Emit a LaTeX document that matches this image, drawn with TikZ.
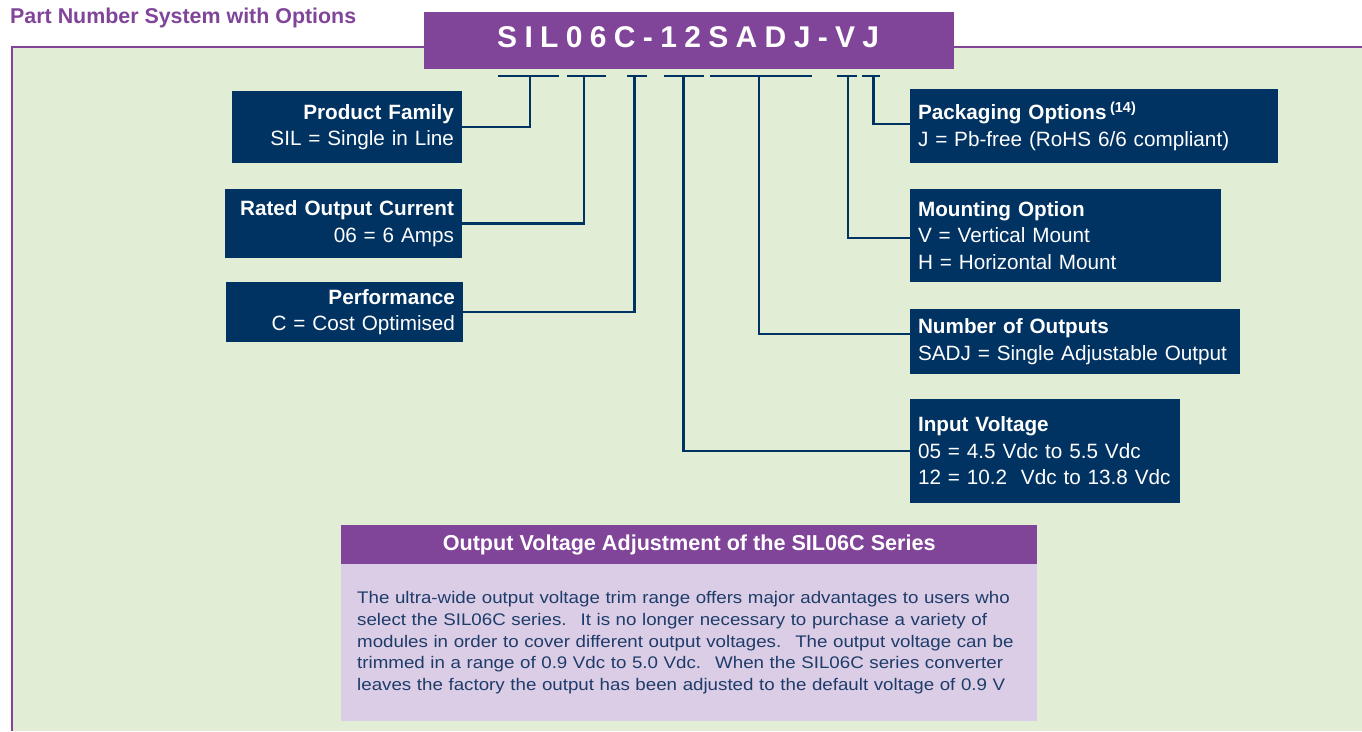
\documentclass[tikz,border=0pt]{standalone}
\usepackage{fontspec}
\setmainfont{Liberation Sans}
\newfontfamily\pnfont[LetterSpace=24.5]{Liberation Sans}
\newfontfamily\widefont[FakeStretch=1.115]{Liberation Sans}
\definecolor{purp}{RGB}{128,68,153}
\definecolor{navy}{RGB}{0,50,98}
\definecolor{panel}{RGB}{225,238,213}
\definecolor{lav}{RGB}{219,205,230}
\definecolor{bodytxt}{RGB}{30,60,105}
\begin{document}
\begin{tikzpicture}[x=1pt,y=-1pt,
  conn/.style={draw=navy, line width=2.4pt},
  boxfont/.style={font=\fontsize{20.7}{26.5}\selectfont},
  lbox/.style={fill=navy, text=white, inner xsep=8pt, inner ysep=0pt, align=right, boxfont},
  rbox/.style={fill=navy, text=white, inner xsep=8pt, inner ysep=0pt, align=left, boxfont},
  plain/.style={inner sep=0pt}
]
\useasboundingbox (0,0) rectangle (1362,731);
% panel
\fill[panel] (12,47) rectangle (1362,731);
\draw[purp, line width=2.2pt] (12,731) -- (12,47) -- (1362,47);
% title
\node[plain, anchor=base west, text=purp, font=\fontsize{21.4}{21.4}\selectfont\bfseries] (title) at (10,23) {Part Number System with Options};
% part number box
\node[plain, fill=purp, minimum width=530pt, minimum height=57pt, anchor=north west] (pn) at (424,12) {};
\node[plain, anchor=base west, text=white, font=\pnfont\bfseries\fontsize{30}{30}\selectfont] (pnt) at (497,47) {SIL06C-12SADJ-VJ};
% tick coordinates
\coordinate (t1) at (530,76);
\coordinate (t2) at (584,76);
\coordinate (t3) at (634.5,76);
\coordinate (t4) at (683.5,76);
\coordinate (t5) at (759,76);
\coordinate (t6) at (848,76);
\coordinate (t7) at (873.5,76);
\draw[conn] ([xshift=-32pt]t1) -- ([xshift=29pt]t1);
\draw[conn] ([xshift=-17pt]t2) -- ([xshift=22pt]t2);
\draw[conn] ([xshift=-7.5pt]t3) -- ([xshift=12.5pt]t3);
\draw[conn] ([xshift=-19.5pt]t4) -- ([xshift=20.5pt]t4);
\draw[conn] ([xshift=-49pt]t5) -- ([xshift=53pt]t5);
\draw[conn] ([xshift=-11pt]t6) -- ([xshift=9pt]t6);
\draw[conn] ([xshift=-11.5pt]t7) -- ([xshift=6pt]t7);
% left boxes
\node[lbox, text width=214pt, minimum height=72pt] (pf) at (347,127) {\textbf{Product Family}\\SIL = Single in Line};
\node[lbox, text width=221pt, minimum height=69pt] (rc) at (343.5,223.5) {\textbf{Rated Output Current}\\06 = 6 Amps};
\node[lbox, text width=221pt, minimum height=60pt] (pe) at (344.5,312) {\textbf{Performance}\\C = Cost Optimised};
% right boxes
\node[rbox, text width=352pt, minimum height=74pt] (pk) at (1094,126) {\textbf{Packaging Options}\,\textsuperscript{\textbf{(14)}}\\J = Pb-free (RoHS 6/6 compliant)};
\node[rbox, text width=295pt, minimum height=93pt] (mo) at (1065.5,235.5) {\textbf{Mounting Option}\\V = Vertical Mount\\H = Horizontal Mount};
\node[rbox, text width=314pt, minimum height=65pt] (nb) at (1075,341.5) {\textbf{Number of Outputs}\\SADJ = Single Adjustable Output};
\node[rbox, text width=254pt, minimum height=104pt] (iv) at (1045,451) {\textbf{Input Voltage}\\05 = 4.5 Vdc to 5.5 Vdc\\12 = 10.2~ Vdc to 13.8 Vdc};
% connectors
\draw[conn] (t1) |- (pf.east);
\draw[conn] (t2) |- (rc.east);
\draw[conn] (t3) |- (pe.east);
\draw[conn] (t4) |- (iv.west);
\draw[conn] (t5) |- ([yshift=7.5pt]nb.west);
\draw[conn] (t6) |- ([yshift=-2.5pt]mo.west);
\draw[conn] (t7) |- ([yshift=2pt]pk.west);
% bottom box
\node[plain, fill=purp, minimum width=696pt, minimum height=39pt, anchor=north west, text=white, font=\fontsize{21.6}{21.6}\selectfont\bfseries] (bh) at (341,525) {Output Voltage Adjustment of the SIL06C Series};
\node[fill=lav, inner xsep=16pt, inner ysep=0pt, text width=664pt, minimum height=157pt, anchor=north west, align=left, text=bodytxt, font=\widefont\fontsize{16.8}{21.7}\selectfont] (bb) at (341,564) {The ultra-wide output voltage trim range offers major advantages to users who\\select the SIL06C series.~ It is no longer necessary to purchase a variety of\\modules in order to cover different output voltages.~ The output voltage can be\\trimmed in a range of 0.9 Vdc to 5.0 Vdc.~ When the SIL06C series converter\\leaves the factory the output has been adjusted to the default voltage of 0.9 V};
\end{tikzpicture}
\end{document}
